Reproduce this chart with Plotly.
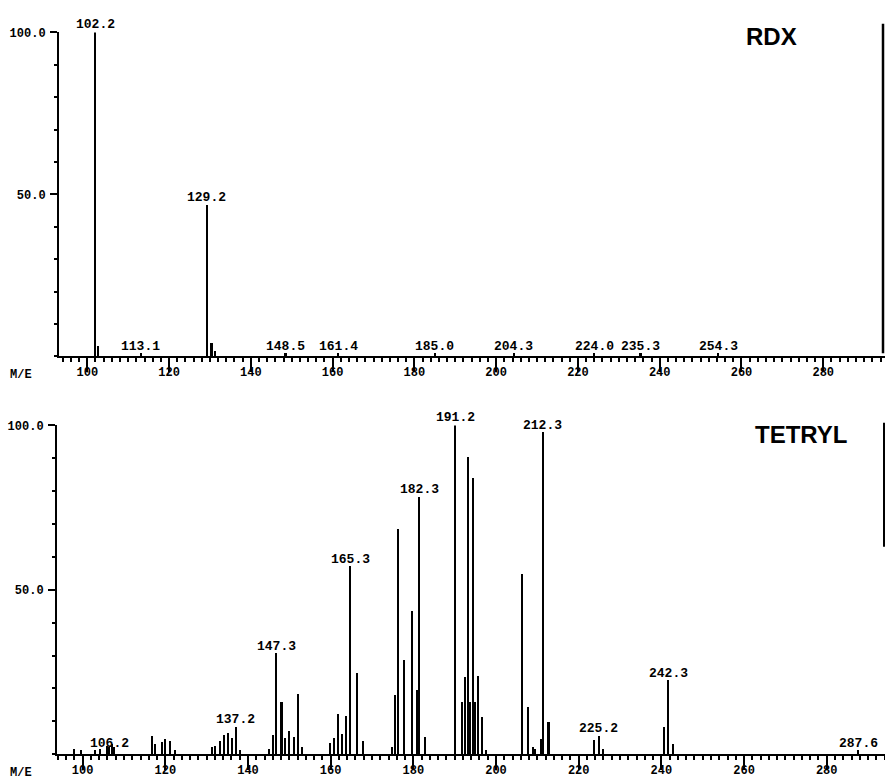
import plotly.graph_objects as go

W, H = 885, 781

# ---------------- data ----------------
rdx_mz = [101.9, 102.7, 113.1, 129.2, 130.4, 131.2, 148.5, 161.4, 185.0, 204.3, 224.0, 235.3, 254.3]
rdx_int = [100.0, 3.0, 0.8, 46.6, 4.0, 1.5, 0.8, 0.8, 0.8, 0.8, 0.8, 0.8, 0.8]
rdx_lab_mz = [101.9, 113.1, 129.2, 148.5, 161.4, 185.0, 204.3, 224.0, 235.3, 254.3]
rdx_lab_int = [100.0, 0.8, 46.6, 0.8, 0.8, 0.8, 0.8, 0.8, 0.8, 0.8]
rdx_lab_txt = ["102.2", "113.1", "129.2", "148.5", "161.4", "185.0", "204.3", "224.0", "235.3", "254.3"]

tet_mz = [98.0, 99.5, 103.0, 104.3, 105.8, 106.4, 107.0, 107.6,
          116.7, 117.5, 119.1, 119.9, 121.1, 122.3,
          131.2, 132.0, 133.2, 134.2, 135.2, 136.1, 137.1, 138.1,
          145.0, 146.0, 146.8, 148.1, 148.9, 150.0, 151.1, 152.0, 153.0,
          159.8, 160.8, 161.8, 162.8, 163.7, 164.7, 166.4, 167.9,
          174.8, 175.6, 176.4, 177.7, 179.7, 180.8, 181.4, 182.8,
          190.1, 191.7, 192.5, 193.2, 193.7, 194.4, 194.9, 195.6, 196.5, 197.6,
          206.2, 207.8, 208.9, 209.4, 210.8, 211.3, 212.7,
          223.7, 224.9, 225.9,
          240.7, 241.7, 242.8, 287.6]
tet_int = [1.5, 1.0, 1.2, 1.5, 2.5, 2.0, 3.0, 2.0,
           5.5, 3.0, 3.5, 4.5, 4.0, 1.0,
           2.0, 2.5, 4.0, 5.7, 6.2, 4.7, 8.2, 1.0,
           1.5, 5.7, 30.5, 15.8, 4.7, 7.0, 5.2, 18.1, 2.0,
           3.4, 4.7, 12.0, 6.0, 11.6, 57.0, 24.7, 3.9,
           2.0, 17.8, 68.5, 28.4, 43.5, 19.3, 78.2, 5.1,
           100.0, 15.8, 23.3, 90.2, 15.8, 83.9, 15.8, 23.8, 11.3, 1.0,
           54.6, 14.3, 2.0, 1.5, 4.5, 97.8, 9.7,
           4.2, 5.4, 1.5,
           8.2, 22.3, 3.0, 1.0]
tet_lab_mz = [106.4, 137.1, 146.8, 164.7, 181.4, 190.1, 211.3, 224.9, 241.7, 287.6]
tet_lab_int = [1.0, 8.2, 30.5, 57.0, 78.2, 100.0, 97.8, 5.4, 22.3, 1.0]
tet_lab_txt = ["106.2", "137.2", "147.3", "165.3", "182.3", "191.2", "212.3", "225.2", "242.3", "287.6"]

x_ticks = [100, 120, 140, 160, 180, 200, 220, 240, 260, 280]
y_ticks = [50, 100]
y_ticktext = ["50.0", "100.0"]

# ---------------- figure ----------------
MONO = "Liberation Mono"
fig = go.Figure()
fig.add_trace(go.Bar(x=rdx_mz, y=rdx_int, width=0.55, marker=dict(color="black", line=dict(width=0)),
                     xaxis="x", yaxis="y", showlegend=False))
fig.add_trace(go.Bar(x=tet_mz, y=tet_int, width=0.5, marker=dict(color="black", line=dict(width=0)),
                     xaxis="x2", yaxis="y2", showlegend=False))

def px_x(p):
    return p / W

def px_y(p):
    return 1 - p / H

common_x = dict(showline=True, linecolor="black", linewidth=2, ticks="outside",
                tickvals=x_ticks, ticklen=14, tickwidth=2, tickcolor="black",
                ticklabelstandoff=-11,
                minor=dict(dtick=2, tick0=0, ticklen=4, tickwidth=1.5, ticks="outside", tickcolor="black"),
                showgrid=False, zeroline=False,
                tickfont=dict(family=MONO, size=12, color="black", weight="bold"))
common_y = dict(showline=True, linecolor="black", linewidth=2, ticks="outside",
                tickvals=y_ticks, ticktext=y_ticktext, ticklen=7, tickwidth=1.5, tickcolor="black",
                ticklabelstandoff=2,
                minor=dict(dtick=10, tick0=0, ticklen=3, tickwidth=1.5, ticks="outside", tickcolor="black"),
                showgrid=False, zeroline=False, range=[0, 100],
                tickfont=dict(family=MONO, size=12, color="black", weight="bold"))

fig.update_layout(
    width=W, height=H, margin=dict(l=0, r=0, t=0, b=0),
    paper_bgcolor="white", plot_bgcolor="white", barmode="overlay", bargap=0,
    xaxis=dict(domain=[px_x(59), 1], range=[93.08, 295.1], anchor="y", **common_x),
    yaxis=dict(domain=[px_y(353), px_y(26.7)], anchor="x", **common_y),
    xaxis2=dict(domain=[px_x(57), 1], range=[93.8, 294.1], anchor="y2", **common_x),
    yaxis2=dict(domain=[px_y(754), px_y(422.7)], anchor="x2", **common_y),
)

ann = []
labfont = dict(family=MONO, size=13, color="black", weight="bold")
for m, v, t in zip(rdx_lab_mz, rdx_lab_int, rdx_lab_txt):
    ann.append(dict(x=m, y=v, xref="x", yref="y", text=t, showarrow=False,
                    yanchor="bottom", xanchor="center", font=labfont, yshift=-2))
for m, v, t in zip(tet_lab_mz, tet_lab_int, tet_lab_txt):
    ann.append(dict(x=m, y=v, xref="x2", yref="y2", text=t, showarrow=False,
                    yanchor="bottom", xanchor="center", font=labfont, yshift=-2))

for yy in (372, 773):
    ann.append(dict(x=px_x(21), y=px_y(yy), xref="paper", yref="paper", text="M/E",
                    showarrow=False, xanchor="center", yanchor="middle",
                    font=dict(family=MONO, size=12, color="black", weight="bold")))

titlefont = dict(family="Liberation Sans", size=24, color="black", weight="bold")
ann.append(dict(x=px_x(771), y=px_y(31), xref="paper", yref="paper", text="RDX",
                showarrow=False, xanchor="center", yanchor="middle", font=titlefont))
ann.append(dict(x=px_x(801), y=px_y(432), xref="paper", yref="paper", text="TETRYL",
                showarrow=False, xanchor="center", yanchor="middle", font=titlefont))
fig.update_layout(annotations=ann)

# scan border marks at the right edge
fig.update_layout(shapes=[
    dict(type="line", xref="paper", yref="paper", x0=px_x(883), x1=px_x(883),
         y0=px_y(18), y1=px_y(350), line=dict(color="black", width=2.5)),
    dict(type="line", xref="paper", yref="paper", x0=px_x(884), x1=px_x(884),
         y0=px_y(420), y1=px_y(545), line=dict(color="black", width=2)),
])

fig.write_html("out.html", config={"displayModeBar": False},
               post_script="document.body.style.margin='0';document.body.style.overflow='hidden';")
